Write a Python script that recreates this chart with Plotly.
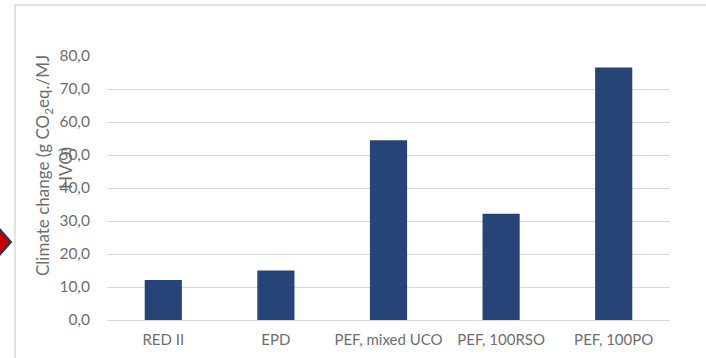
import plotly.graph_objects as go

categories = ["RED II", "EPD", "PEF, mixed UCO", "PEF, 100RSO", "PEF, 100PO"]
values = [12.1, 15.0, 54.5, 32.2, 76.5]
y_ticks = [0, 10, 20, 30, 40, 50, 60, 70, 80]

W, H = 706, 358
L, R, T, B = 107, 36, 56, 38
pw, ph = W - L - R, H - T - B

def px(x):
    return (x - L) / pw

def py(y):
    return (H - B - y) / ph

FONT = "Lato"
GRAY = "#6e6e6e"

fig = go.Figure(go.Bar(x=categories, y=values, marker=dict(color="#264478", line=dict(width=0))))

fig.update_layout(
    width=W, height=H,
    margin=dict(l=L, r=R, t=T, b=B, pad=0, autoexpand=False),
    paper_bgcolor="white", plot_bgcolor="white",
    separators=",.",
    bargap=0.67,
    showlegend=False,
    font=dict(family=FONT, size=14, color=GRAY),
    xaxis=dict(showgrid=False, showline=False, zeroline=False, automargin=False,
               ticks="outside", ticklen=6, tickcolor="rgba(0,0,0,0)",
               tickfont=dict(family=FONT, size=15, color=GRAY)),
    yaxis=dict(range=[0, 80], tickvals=y_ticks, tickformat=".1f", automargin=False,
               showgrid=True, gridcolor="#d9d9d9", gridwidth=1,
               zeroline=True, zerolinecolor="#d9d9d9", zerolinewidth=1,
               showline=False, ticks="outside", ticklen=13, tickcolor="rgba(0,0,0,0)",
               tickfont=dict(family=FONT, size=15.5, color=GRAY)),
    annotations=[
        dict(text="Climate change (g CO<sub>2</sub>eq./MJ", xref="paper", yref="paper",
             x=px(44), y=py(166), textangle=-90, showarrow=False,
             xanchor="center", yanchor="middle", font=dict(family=FONT, size=17, color=GRAY)),
        dict(text="HVO)", xref="paper", yref="paper",
             x=px(65), y=py(168), textangle=-90, showarrow=False,
             xanchor="center", yanchor="middle", font=dict(family=FONT, size=17, color=GRAY)),
    ],
    shapes=[
        dict(type="path", xref="paper", yref="paper",
             path=f"M {px(15)} {py(365)} L {px(15)} {py(5)} L {px(712)} {py(5)}",
             line=dict(color="#d9d9d9", width=1.5), fillcolor="rgba(0,0,0,0)"),
        dict(type="path", xref="paper", yref="paper",
             path=f"M {px(-3)} {py(226)} L {px(11)} {py(242)} L {px(-3)} {py(258)} Z",
             line=dict(color="#1f3864", width=2), fillcolor="#c00000"),
    ],
)

fig.write_html("out.html")
